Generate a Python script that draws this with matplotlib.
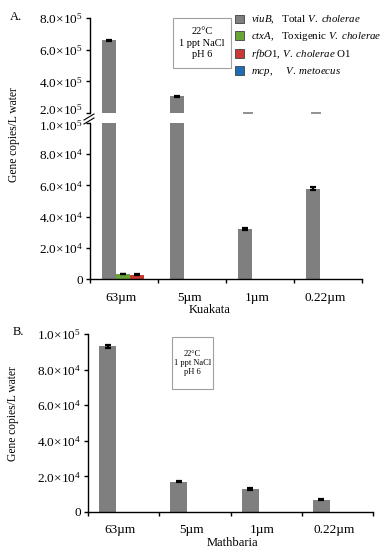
import numpy as np
import matplotlib
matplotlib.use("Agg")
import matplotlib.pyplot as plt
import matplotlib.transforms as mtransforms
from matplotlib.patches import Patch, Rectangle
from matplotlib.lines import Line2D

plt.rcParams['font.family'] = ['Liberation Serif', 'DejaVu Serif']
plt.rcParams['mathtext.fontset'] = 'custom'
plt.rcParams['mathtext.rm'] = 'Liberation Serif'
plt.rcParams['mathtext.it'] = 'Liberation Serif:italic'
plt.rcParams['axes.linewidth'] = 1.0

# data
categories = ['63\u00b5m', '5\u00b5m', '1\u00b5m', '0.22\u00b5m']

# Kuakata (panel A)
viuB_k = [6.6e5, 3.05e5, 3.2e4, 5.8e4]
ctxA_k = [3.2e3, 0, 0, 0]
rfbO1_k = [2.8e3, 0, 0, 0]
mcp_k = [0, 0, 0, 0]
viuB_k_err = [4e3, 3e3, 6e2, 7e2]
ctxA_k_err = [3e2, 0, 0, 0]
rfbO1_k_err = [3e2, 0, 0, 0]
mcp_k_err = [0, 0, 0, 0]

# Mathbaria (panel B)
viuB_m = [9.3e4, 1.7e4, 1.3e4, 7.0e3]
viuB_m_err = [6e2, 4e2, 4e2, 3e2]

series_names = [r'$\it{viuB}$,   Total $\it{V.\ cholerae}$',
                r'$\it{ctxA}$,   Toxigenic $\it{V.\ cholerae}$',
                r'$\it{rfbO1}$, $\it{V.\ cholerae}$ O1',
                r'$\it{mcp}$,     $\it{V.\ metoecus}$']
colors = ['#7f7f7f', '#6aa53a', '#c83a32', '#1f6db0']

upper_ticks = [2e5, 4e5, 6e5, 8e5]
lower_ticks = [0, 2e4, 4e4, 6e4, 8e4, 1e5]
conditions = '22\u00b0C\n1 ppt NaCl\npH 6'


def sci(v):
    if v == 0:
        return '0'
    e = int(np.floor(np.log10(v)))
    return r'$%.1f{\times}10^{%d}$' % (v / 10**e, e)


fig = plt.figure(figsize=(3.92, 5.50), dpi=100)
W, H = 392.0, 550.0


def box(x0, y0, x1, y1):
    return [x0 / W, 1 - y1 / H, (x1 - x0) / W, (y1 - y0) / H]


def note(x0, y0, x1, y1, size, spacing):
    r = box(x0, y0, x1, y1)
    fig.add_artist(Rectangle((r[0], r[1]), r[2], r[3], transform=fig.transFigure,
                             facecolor='white', edgecolor='#a0a0a0', lw=0.8))
    fig.text((x0 + x1) / 2 / W, 1 - (y0 + y1) / 2 / H, conditions, fontsize=size,
             ha='center', va='center', linespacing=spacing)


ax_up = fig.add_axes(box(90, 18, 362, 113))
ax_lo = fig.add_axes(box(90, 123, 362, 279))
ax_b = fig.add_axes(box(88, 334, 373, 512))

# ---- panel A
off, w = 0.17, 0.21
x = np.arange(len(categories))
vals_k = [viuB_k, ctxA_k, rfbO1_k, mcp_k]
errs_k = [viuB_k_err, ctxA_k_err, rfbO1_k_err, mcp_k_err]
for j, (v, e, c) in enumerate(zip(vals_k, errs_k, colors)):
    xs = x + off + j * w + w / 2
    v = np.array(v)
    e = np.array(e)
    for ax in (ax_up, ax_lo):
        ax.bar(xs, v, width=w, color=c, linewidth=0)
        m = v > 0
        ax.errorbar(xs[m], v[m], yerr=e[m], fmt='none', ecolor='black',
                    elinewidth=1.6, capsize=2.5, capthick=1.6)
    if j == 0:
        low = v < upper_ticks[0]
        ax_up.hlines(np.full(low.sum(), upper_ticks[0]), xs[low] - 0.02, xs[low] + 0.12,
                     color='#7f7f7f', lw=1.2, clip_on=False)

ax_up.set_ylim(upper_ticks[0], upper_ticks[-1])
ax_lo.set_ylim(lower_ticks[0], lower_ticks[-1])
for ax in (ax_up, ax_lo, ax_b):
    ax.set_xlim(0, len(categories))
    ax.spines['top'].set_visible(False)
    ax.spines['right'].set_visible(False)
    ax.tick_params(axis='y', direction='out', length=3, width=1, pad=2, labelsize=9.5)

ax_up.spines['bottom'].set_visible(False)
ax_up.set_xticks([])
ax_up.set_yticks(upper_ticks)
ax_up.set_yticklabels([sci(t) for t in upper_ticks])
ax_lo.set_yticks(lower_ticks)
ax_lo.set_yticklabels([sci(t) for t in lower_ticks])

# nudge the two labels either side of the break apart
lab = ax_up.get_yticklabels()[0]
lab.set_transform(lab.get_transform() + mtransforms.ScaledTranslation(0, 4 / 100, fig.dpi_scale_trans))
lab = ax_lo.get_yticklabels()[-1]
lab.set_transform(lab.get_transform() + mtransforms.ScaledTranslation(0, -2 / 100, fig.dpi_scale_trans))

for ax, lab_off in ((ax_lo, 0.46), (ax_b, 0.45)):
    ax.set_xticks(np.arange(len(categories) + 1))
    ax.set_xticklabels([])
    ax.set_xticks(x + lab_off, minor=True)
    ax.set_xticklabels(categories, minor=True)
    ax.tick_params(axis='x', which='major', direction='out', length=3, width=1)
    ax.tick_params(axis='x', which='minor', length=0, pad=9, labelsize=9.5)

# break marks on the y axis
for dy in (0, 4):
    fig.add_artist(Line2D([84 / W, 94 / W], [1 - (120 + dy) / H, 1 - (114 + dy) / H],
                          color='black', lw=0.8))

fig.text(10 / W, 1 - 17 / H, 'A.', fontsize=9, ha='left', va='center')
fig.text(14 / W, 1 - 135 / H, 'Gene copies/L water', fontsize=8.3, rotation=90,
         ha='center', va='center')
fig.text(210 / W, 1 - 310 / H, 'Kuakata', fontsize=9, ha='center', va='center')
note(173, 18, 231, 68, 7.5, 1.35)

handles = [Patch(facecolor=c, edgecolor='#404040', lw=0.6) for c in colors]
fig.legend(handles, series_names, loc='upper left', bbox_to_anchor=(235 / W, 1 - 14 / H),
           frameon=False, fontsize=7.8, handlelength=0.8, handleheight=0.8,
           handletextpad=0.7, labelspacing=0.36, borderaxespad=0, borderpad=0)

# ---- panel B
wb, offb = 0.24, 0.155
xb = x + offb + wb / 2
ax_b.bar(xb, viuB_m, width=wb, color=colors[0], linewidth=0)
ax_b.errorbar(xb, viuB_m, yerr=viuB_m_err, fmt='none', ecolor='black',
              elinewidth=1.6, capsize=2.5, capthick=1.6)
ax_b.set_ylim(lower_ticks[0], lower_ticks[-1])
ax_b.set_yticks(lower_ticks)
ax_b.set_yticklabels([sci(t) for t in lower_ticks])

fig.text(13 / W, 1 - 332 / H, 'B.', fontsize=9, ha='left', va='center')
fig.text(13 / W, 1 - 414 / H, 'Gene copies/L water', fontsize=8.3, rotation=90,
         ha='center', va='center')
fig.text(232 / W, 1 - 543 / H, 'Mathbaria', fontsize=9, ha='center', va='center')
note(172, 337, 213, 389, 6.0, 1.2)

fig.savefig('out.png', dpi=100)
